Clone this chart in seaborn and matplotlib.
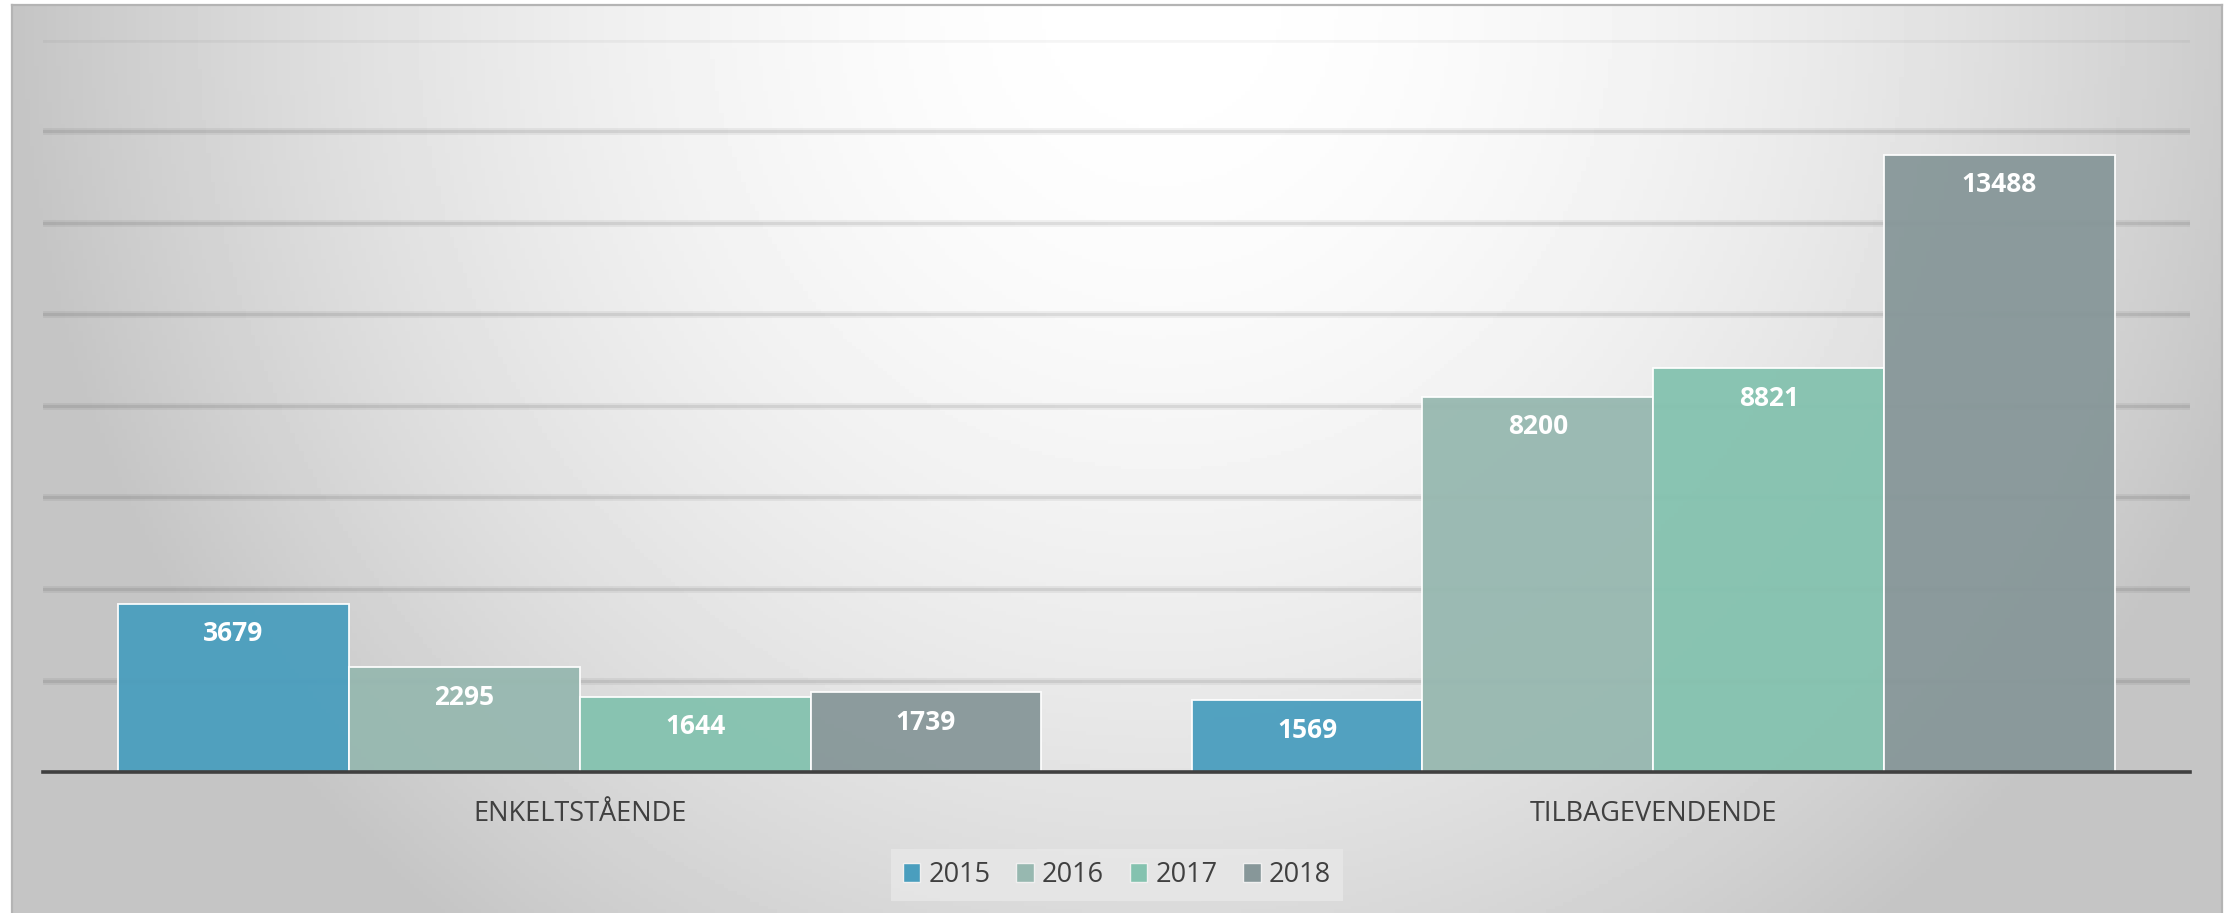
import numpy as np
import pandas as pd
import matplotlib
matplotlib.use("Agg")
import matplotlib.pyplot as plt
import seaborn as sns

# data
kategorier = ["ENKELTSTÅENDE", "TILBAGEVENDENDE"]
aar = ["2015", "2016", "2017", "2018"]
enkeltstaaende = [3679, 2295, 1644, 1739]
tilbagevendende = [1569, 8200, 8821, 13488]
farver = ["#4a9ebe", "#97b8b0", "#84c2af", "#879799"]

df = pd.DataFrame({
    "kategori": [kategorier[0]] * 4 + [kategorier[1]] * 4,
    "aar": aar + aar,
    "antal": enkeltstaaende + tilbagevendende,
})

sns.set_theme(style="white")
plt.rcParams["font.family"] = ["Open Sans", "DejaVu Sans"]

W, H = 2233, 913
fig = plt.figure(figsize=(W / 100, H / 100), dpi=100)
fig.patch.set_facecolor("white")

# gradient background panel
bg = fig.add_axes([12 / W, 0, (2222 - 12) / W, (H - 5) / H], zorder=0)
xs = np.linspace(0, 1, 500)
ys = np.linspace(0, 1, 250)
X, Y = np.meshgrid(xs, ys)
d = np.sqrt(((X - 0.52) / 0.52) ** 2 + (Y / 1.3) ** 2)
g = 1 - 0.23 * np.clip(d, 0, 1) ** 1.8
bg.imshow(g, cmap="gray", vmin=0, vmax=1, aspect="auto", extent=(0, 1, 1, 0))
bg.set_xlim(0, 1)
bg.set_ylim(1, 0)
bg.set_xticks([])
bg.set_yticks([])
bg.spines["bottom"].set_visible(False)
for side in ["top", "left", "right"]:
    bg.spines[side].set_color("#b4b4b4")
    bg.spines[side].set_linewidth(1.6)

# main axes
ax = fig.add_axes([43 / W, (H - 772) / H, (2190 - 43) / W, (772 - 40) / H], zorder=1)
ax.set_facecolor("none")

# gridlines (soft shadow look)
for y in range(2000, 14001, 2000):
    ax.axhline(y, color="black", alpha=0.05, lw=5, zorder=0)
    ax.axhline(y, color="black", alpha=0.08, lw=2.2, zorder=0)
ax.axhline(16000, color="black", alpha=0.04, lw=4, zorder=0)

sns.barplot(data=df, x="kategori", y="antal", hue="aar", palette=farver,
            width=0.86, saturation=1, edgecolor="white", linewidth=1.3,
            alpha=0.95, ax=ax, zorder=2)

for cont in ax.containers:
    for p in cont:
        h = p.get_height()
        ax.annotate(f"{int(round(h))}", (p.get_x() + p.get_width() / 2, h),
                    xytext=(0, -30), textcoords="offset pixels",
                    ha="center", va="center", color="white",
                    fontsize=19, fontweight="bold", zorder=3)

ax.set_xlim(-0.5, 1.5)
ax.set_ylim(0, 16000)
ax.set_yticks([])
ax.set_xlabel("")
ax.set_ylabel("")
for side in ["top", "left", "right"]:
    ax.spines[side].set_visible(False)
ax.spines["bottom"].set_color("#404040")
ax.spines["bottom"].set_linewidth(2.6)
ax.spines["bottom"].set_zorder(4)
ax.tick_params(axis="x", length=0, pad=20, labelsize=19.5, labelcolor="#404040")

ax.legend_.remove()
handles = [plt.Rectangle((0, 0), 1, 1, facecolor=c, edgecolor="#f0f0f0", lw=1) for c in farver]
leg = fig.legend(handles, aar, loc="center", bbox_to_anchor=(1117 / W, 1 - 875 / H),
                 ncol=4, frameon=True, fancybox=False, fontsize=19.5,
                 handlelength=0.65, handleheight=0.65, handletextpad=0.3,
                 columnspacing=0.95, borderpad=0.45)
leg.get_frame().set_facecolor("#e8e8e8")
leg.get_frame().set_edgecolor("none")
for t in leg.get_texts():
    t.set_color("#404040")

fig.savefig("out.png", dpi=100)
